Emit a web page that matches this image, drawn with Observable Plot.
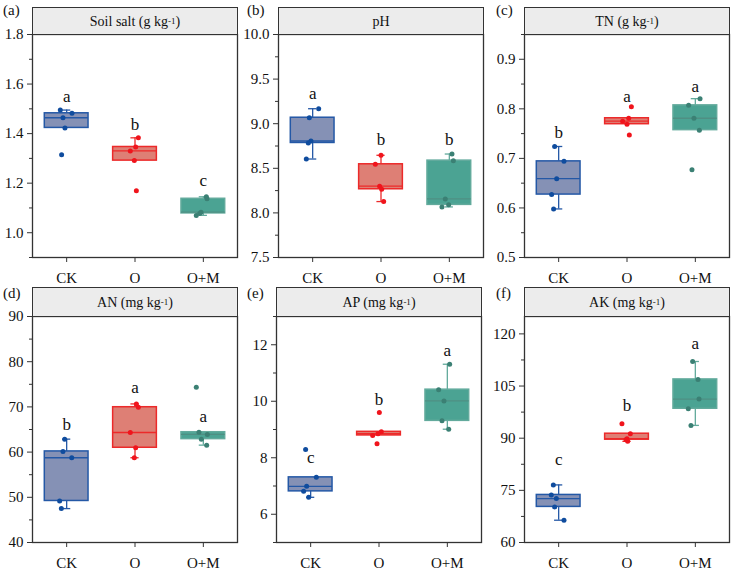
<!DOCTYPE html>
<html><head><meta charset="utf-8">
<script src="https://cdn.jsdelivr.net/npm/d3@7"></script>
<script src="https://cdn.jsdelivr.net/npm/@observablehq/plot@0.6"></script>
<style>
body{margin:0;background:#fff;}
#wrap{position:relative;width:732px;height:572px;font-family:"Liberation Serif","Times New Roman",serif;overflow:hidden;}
.strip{position:absolute;box-sizing:border-box;border:1.3px solid #333;background:#ececec;display:flex;align-items:center;justify-content:center;font-size:14px;color:#111;padding-top:2px;}
.strip sup{font-size:9px;line-height:0;position:relative;top:-1px;}
.lab{position:absolute;font-size:15px;line-height:15px;color:#111;}
</style></head><body><div id="wrap"></div>
<script>
const groups = ["CK", "O", "O+M"];

// (a) Soil salt
const saltValues = [[1.495,1.482,1.464,1.423,1.315],[1.383,1.346,1.330,1.291,1.169],[1.145,1.137,1.083,1.070,1.078]];
const saltJitter = [[-0.093,0.078,-0.054,-0.025,-0.074],[0.049,0.010,-0.069,-0.010,0.020],[0.044,0.054,-0.034,-0.103,-0.054]];
const saltLetters = ["a","b","c"];
const saltLetterY = [1.548,1.438,1.212];
const saltTicks = [1.0,1.2,1.4,1.6,1.8];
const saltMinor = [0.9,1.1,1.3,1.5,1.7];

// (b) pH
const phValues = [[9.168,9.067,8.806,8.784,8.604],[8.646,8.545,8.30,8.265,8.127],[8.66,8.586,8.157,8.067,8.09]];
const phJitter = [[0.088,-0.049,-0.025,-0.064,-0.093],[0,-0.083,-0.02,0.01,0.039],[0.039,0.059,-0.059,-0.108,-0.01]];
const phLetters = ["a","b","b"];
const phLetterY = [9.336,8.82,8.82];
const phTicks = [7.5,8.0,8.5,9.0,9.5,10.0];
const phMinor = [7.75,8.25,8.75,9.25,9.75];

// (c) TN
const tnValues = [[0.724,0.694,0.659,0.627,0.598],[0.804,0.781,0.775,0.769,0.747],[0.8205,0.807,0.781,0.757,0.677]];
const tnJitter = [[-0.059,0.078,-0.029,-0.103,-0.074],[0.064,0.025,-0.064,0,0.034],[0.069,-0.098,-0.020,0.059,-0.049]];
const tnLetters = ["b","a","a"];
const tnLetterY = [0.7525,0.8246,0.845];
const tnTicks = [0.5,0.6,0.7,0.8,0.9];
const tnMinor = [0.55,0.65,0.75,0.85,0.95];

// (d) AN
const anValues = [[62.87,60.15,58.75,49.19,47.5],[70.66,69.93,64.34,60.96,58.75],[74.34,64.4,63.9,62.87,61.54]];
const anJitter = [[-0.029,-0.054,0.074,-0.103,-0.078],[0.020,0.049,-0.069,0.010,-0.010],[-0.103,-0.064,0.059,-0.029,0.049]];
const anLetters = ["b","a","a"];
const anLetterY = [66.1,74.2,67.9];
const anTicks = [40,50,60,70,80,90];
const anMinor = [45,55,65,75,85];

// (e) AP
const apValues = [[8.294,7.306,6.99,6.81,6.6],[9.6,8.918,8.85,8.79,8.5],[11.31,10.41,10.01,9.306,9.01]];
const apJitter = [[-0.074,0.083,-0.059,-0.103,-0.029],[0.005,0.034,-0.015,-0.093,-0.029],[0.034,-0.127,-0.049,-0.078,0.020]];
const apLetters = ["c","b","a"];
const apLetterY = [8.0,10.07,11.78];
const apTicks = [6,8,10,12];
const apMinor = [5,7,9,11,13];

// (f) AK
const akValues = [[76.56,73.68,72.63,70.24,66.41],[94.16,91.29,89.86,89.57,89.09],[112.06,106.9,101.24,98.47,93.68]];
const akJitter = [[-0.078,-0.108,-0.034,-0.059,0.078],[-0.074,0.049,0,-0.015,0.01],[-0.039,0.039,0.054,-0.103,-0.064]];
const akLetters = ["c","b","a"];
const akLetterY = [83.8,99.3,117.1];
const akTicks = [60,75,90,105,120];
const akMinor = [67.5,82.5,97.5,112.5];

const titles = ["Soil salt (g kg<sup>-1</sup>)", "pH", "TN (g kg<sup>-1</sup>)", "AN (mg kg<sup>-1</sup>)", "AP (mg kg<sup>-1</sup>)", "AK (mg kg<sup>-1</sup>)"];
const panelLabels = ["(a)","(b)","(c)","(d)","(e)","(f)"];

const boxFill = ["#8591b5", "#de7f75", "#4ba393"];
const boxStroke = ["#2458a6", "#ec2a2a", "#62aa9c"];
const medStroke = ["#2458a6", "#ec2a2a", "#4f8f83"];
const dotFill = ["#0f4c9e", "#f0141c", "#3b8074"];

const panels = [
  {values: saltValues, jitter: saltJitter, letters: saltLetters, letterY: saltLetterY, ticks: saltTicks, minor: saltMinor, domain: [0.9, 1.8], fmt: d3.format(".1f"),
   frameLeft: 32, stripTop: 7, plotTop: 34, plotBottom: 257, labX: 3, labY: 3},
  {values: phValues, jitter: phJitter, letters: phLetters, letterY: phLetterY, ticks: phTicks, minor: phMinor, domain: [7.5, 10], fmt: d3.format(".1f"),
   frameLeft: 278, stripTop: 7, plotTop: 34, plotBottom: 257, labX: 247, labY: 3},
  {values: tnValues, jitter: tnJitter, letters: tnLetters, letterY: tnLetterY, ticks: tnTicks, minor: tnMinor, domain: [0.5, 0.95], fmt: d3.format(".1f"),
   frameLeft: 524, stripTop: 7, plotTop: 34, plotBottom: 257, labX: 496, labY: 3},
  {values: anValues, jitter: anJitter, letters: anLetters, letterY: anLetterY, ticks: anTicks, minor: anMinor, domain: [40, 90], fmt: d3.format("d"),
   frameLeft: 32, stripTop: 287, plotTop: 316, plotBottom: 542, labX: 3, labY: 286},
  {values: apValues, jitter: apJitter, letters: apLetters, letterY: apLetterY, ticks: apTicks, minor: apMinor, domain: [5, 13], fmt: d3.format("d"),
   frameLeft: 276, stripTop: 287, plotTop: 316, plotBottom: 542, labX: 247, labY: 286},
  {values: akValues, jitter: akJitter, letters: akLetters, letterY: akLetterY, ticks: akTicks, minor: akMinor, domain: [60, 125], fmt: d3.format("d"),
   frameLeft: 524, stripTop: 287, plotTop: 316, plotBottom: 542, labX: 496, labY: 286}
];

const wrap = document.getElementById("wrap");
const frameW = 205, mL = 40, mR = 10, mT = 10, mB = 34, half = 0.32;

panels.forEach((p, i) => {
  const rows = [];
  p.values.forEach((vals, g) => vals.forEach((v, k) => rows.push({g, v, x: g + p.jitter[g][k]})));
  const stats = p.values.map((vals, g) => {
    const s = vals.slice().sort(d3.ascending);
    const q1 = d3.quantile(s, 0.25), med = d3.quantile(s, 0.5), q3 = d3.quantile(s, 0.75);
    const iqr = q3 - q1;
    const lo = d3.min(s.filter(v => v >= q1 - 1.5 * iqr));
    const hi = d3.max(s.filter(v => v <= q3 + 1.5 * iqr));
    return {g, q1, med, q3, lo, hi, letter: p.letters[g], ly: p.letterY[g]};
  });
  const upper = stats.filter(d => d.hi > d.q3);
  const lower = stats.filter(d => d.lo < d.q1);
  const plotH = p.plotBottom - p.plotTop;
  const svg = Plot.plot({
    width: mL + frameW + mR,
    height: mT + plotH + mB,
    marginLeft: mL, marginRight: mR, marginTop: mT, marginBottom: mB,
    x: {domain: [-0.5, 2.5]},
    y: {domain: p.domain},
    style: {fontFamily: "'Liberation Serif', 'Times New Roman', serif", fontSize: "15px", background: "transparent", overflow: "visible", color: "#222"},
    marks: [
      Plot.ruleX(upper, {x: "g", y1: "q3", y2: "hi", stroke: d => boxStroke[d.g], strokeWidth: 1.3}),
      Plot.ruleX(lower, {x: "g", y1: "lo", y2: "q1", stroke: d => boxStroke[d.g], strokeWidth: 1.3}),
      Plot.ruleY(upper, {y: "hi", x1: d => d.g - 0.06, x2: d => d.g + 0.06, stroke: d => boxStroke[d.g], strokeWidth: 1.3}),
      Plot.ruleY(lower, {y: "lo", x1: d => d.g - 0.06, x2: d => d.g + 0.06, stroke: d => boxStroke[d.g], strokeWidth: 1.3}),
      Plot.rect(stats, {x1: d => d.g - half, x2: d => d.g + half, y1: "q1", y2: "q3", fill: d => boxFill[d.g], stroke: d => boxStroke[d.g], strokeWidth: 1.5}),
      Plot.ruleY(stats, {y: "med", x1: d => d.g - half, x2: d => d.g + half, stroke: d => medStroke[d.g], strokeWidth: 1.3}),
      Plot.dot(rows, {x: "x", y: "v", r: 2.5, fill: d => dotFill[d.g], stroke: null}),
      Plot.text(stats, {x: "g", y: "ly", text: "letter", fontSize: 17, fill: "#111"}),
      Plot.axisY(p.ticks, {tickSize: 5, tickPadding: 4, tickFormat: p.fmt, fill: "#111", stroke: "#333"}),
      Plot.axisY(p.minor, {tickSize: 3, tickFormat: () => "", stroke: "#333"}),
      Plot.axisX([0, 1, 2], {tickSize: 5, tickPadding: 10, tickFormat: d => groups[d], fill: "#111", stroke: "#333"}),
      Plot.frame({stroke: "#333", strokeWidth: 1.3})
    ]
  });
  svg.style.position = "absolute";
  svg.style.left = (p.frameLeft - mL) + "px";
  svg.style.top = (p.plotTop - mT) + "px";
  svg.style.maxWidth = "none";
  wrap.appendChild(svg);

  const strip = document.createElement("div");
  strip.className = "strip";
  strip.style.left = p.frameLeft + "px";
  strip.style.top = p.stripTop + "px";
  strip.style.width = (frameW + 1) + "px";
  strip.style.height = (p.plotTop - p.stripTop + 1) + "px";
  strip.innerHTML = titles[i];
  wrap.appendChild(strip);

  const lab = document.createElement("div");
  lab.className = "lab";
  lab.style.left = p.labX + "px";
  lab.style.top = p.labY + "px";
  lab.textContent = panelLabels[i];
  wrap.appendChild(lab);
});
</script></body></html>
